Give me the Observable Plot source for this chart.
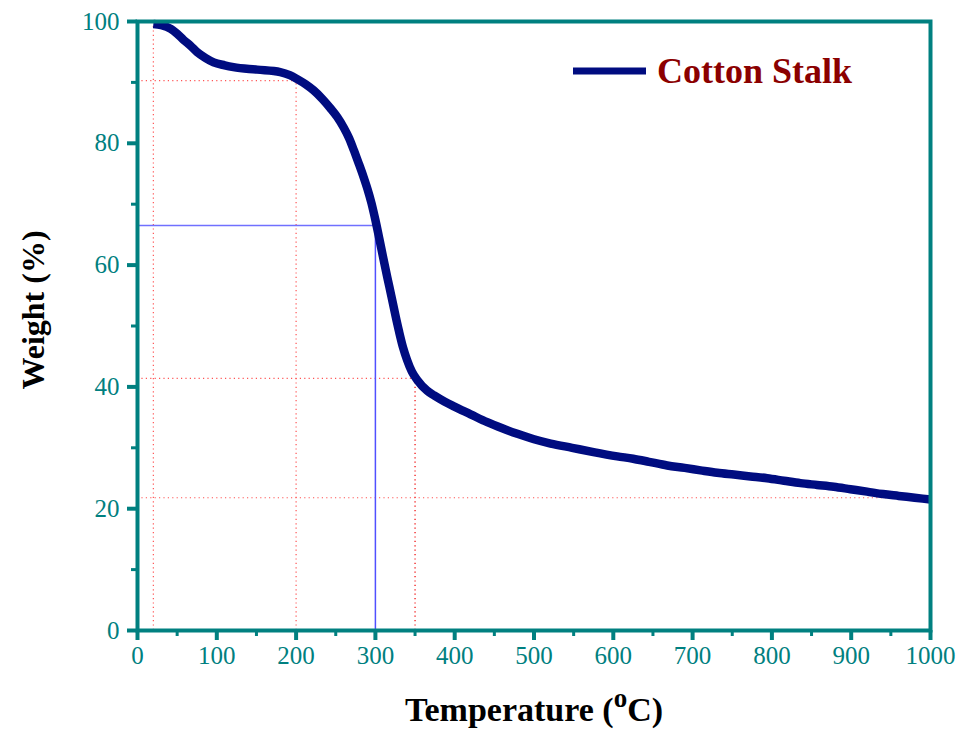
<!DOCTYPE html>
<html>
<head>
<meta charset="utf-8">
<script src="https://cdn.jsdelivr.net/npm/d3@7"></script>
<script src="https://cdn.jsdelivr.net/npm/@observablehq/plot@0.6"></script>
<style>
  html, body { margin: 0; padding: 0; background: #fff; }
  #chart svg { display: block; }
</style>
</head>
<body>
<div id="chart"></div>
<script>
// ---- data ----
const temperature = [20, 30, 42, 50, 58, 67, 75, 86, 96, 110, 121, 151, 180, 192, 202, 212, 222, 233, 243, 252, 260, 267, 273, 279, 285, 290, 295, 300, 305, 310, 315, 320, 325, 330, 335, 340, 346, 353, 365, 374, 387, 399, 420, 441, 460, 479, 500, 521, 548, 575, 605, 625, 645, 668, 690, 710, 731, 752, 773, 794, 815, 836, 857, 878, 899, 920, 940, 960, 980, 1000];
const weight = [99.6, 99.4, 98.8, 98.0, 97.0, 96.0, 95.0, 94.0, 93.3, 92.8, 92.5, 92.1, 91.7, 91.2, 90.5, 89.7, 88.7, 87.3, 85.8, 84.3, 82.6, 80.8, 78.8, 76.7, 74.5, 72.5, 70.2, 67.4, 64.3, 61.1, 58.0, 55.0, 51.9, 49.0, 46.4, 44.4, 42.5, 41.1, 39.4, 38.6, 37.6, 36.8, 35.5, 34.2, 33.2, 32.3, 31.4, 30.7, 30.0, 29.3, 28.6, 28.2, 27.7, 27.1, 26.7, 26.3, 25.9, 25.6, 25.3, 25.0, 24.6, 24.2, 23.9, 23.6, 23.2, 22.8, 22.4, 22.1, 21.8, 21.5];

// reference markers (red dotted)
const refVertX = [20, 200, 350];
const refVertTop = [100, 90.3, 41.4];
const refHorizY = [90.3, 41.4, 21.8];
const refHorizEnd = [200, 350, 1000];
// blue marker at 300 °C
const blueX = [300];
const blueY = [66.5];

const xMajor = [0, 100, 200, 300, 400, 500, 600, 700, 800, 900, 1000];
const xMinor = [50, 150, 250, 350, 450, 550, 650, 750, 850, 950];
const yMajor = [0, 20, 40, 60, 80, 100];
const yMinor = [10, 30, 50, 70, 90];

const seriesName = "Cotton Stalk";
const xTitle = "Temperature (";
const yTitle = "Weight (%)";

// ---- build ----
const curve = temperature.map((t, i) => ({t, w: weight[i]}));
const vRefs = refVertX.map((x, i) => ({x, top: refVertTop[i]}));
const hRefs = refHorizY.map((y, i) => ({y, end: refHorizEnd[i]}));
const blue = blueX.map((x, i) => ({x, y: blueY[i]}));

const teal = "#008080";
const serif = "'Liberation Serif', 'Times New Roman', serif";

const plot = Plot.plot({
  width: 963,
  height: 730,
  marginLeft: 137,
  marginRight: 33,
  marginTop: 21,
  marginBottom: 100,
  style: {fontFamily: serif, background: "#fff"},
  x: {domain: [0, 1000]},
  y: {domain: [0, 100]},
  marks: [
    Plot.ruleX(vRefs, {x: "x", y1: 0, y2: "top", stroke: (d, i) => i === 2 ? "#ee0000" : "#ff5555", strokeWidth: 1.2, strokeDasharray: "1.2,3.2"}),
    Plot.ruleY(hRefs, {y: "y", x1: 0, x2: "end", stroke: "#ff5555", strokeWidth: 1.2, strokeDasharray: "1.2,3.2"}),
    Plot.ruleY(blue, {y: "y", x1: 0, x2: "x", stroke: "#7070ff", strokeWidth: 1.5}),
    Plot.ruleX(blue, {x: "x", y1: 0, y2: "y", stroke: "#5050ff", strokeWidth: 1.5}),
    Plot.line(curve, {x: "t", y: "w", stroke: "#000c80", strokeWidth: 8.5, curve: "monotone-x", strokeLinecap: "butt"}),
    Plot.axisX({ticks: xMinor, tickSize: 6, strokeWidth: 3, stroke: teal, text: null}),
    Plot.axisY({ticks: yMinor, tickSize: 6, strokeWidth: 3, stroke: teal, text: null}),
    Plot.axisX({ticks: xMajor, tickSize: 10, strokeWidth: 4, stroke: teal, fill: teal, fontSize: 25, tickPadding: 6, label: null, tickFormat: d => String(d)}),
    Plot.axisY({ticks: yMajor, tickSize: 10, strokeWidth: 4, stroke: teal, fill: teal, fontSize: 25, tickPadding: 8, label: null, tickFormat: d => String(d)}),
    Plot.frame({stroke: teal, strokeWidth: 4})
  ]
});

document.getElementById("chart").appendChild(plot);

// titles & legend
const svg = d3.select(plot);
const xt = svg.append("text")
  .attr("x", 534).attr("y", 721)
  .attr("text-anchor", "middle")
  .attr("font-family", serif).attr("font-weight", "bold").attr("font-size", 34)
  .attr("fill", "#000");
xt.append("tspan").text(xTitle);
xt.append("tspan").attr("font-size", 27).attr("dy", -14).text("o");
xt.append("tspan").attr("dy", 14).text("C)");

svg.append("text")
  .attr("transform", "translate(44,310) rotate(-90)")
  .attr("text-anchor", "middle")
  .attr("font-family", serif).attr("font-weight", "bold").attr("font-size", 32)
  .attr("fill", "#000")
  .text(yTitle);

svg.append("line")
  .attr("x1", 573).attr("x2", 646).attr("y1", 71).attr("y2", 71)
  .attr("stroke", "#000c80").attr("stroke-width", 7);
svg.append("text")
  .attr("x", 657).attr("y", 83)
  .attr("text-anchor", "start")
  .attr("font-family", serif).attr("font-weight", "bold").attr("font-size", 36)
  .attr("fill", "#8b0000")
  .text(seriesName);
</script>
</body>
</html>
